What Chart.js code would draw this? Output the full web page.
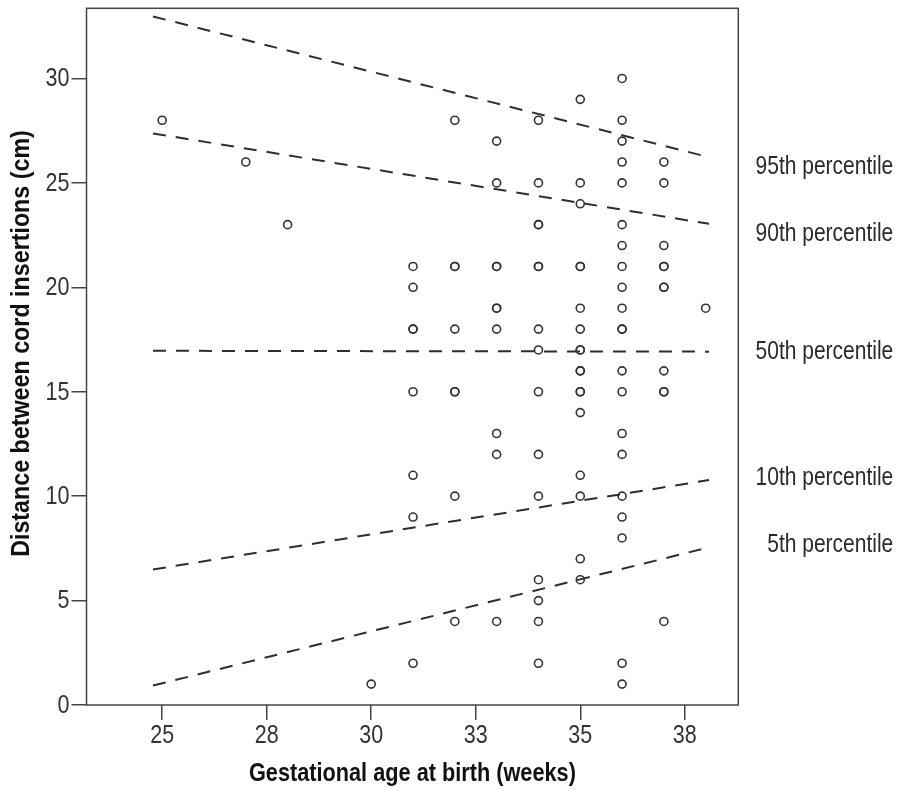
<!DOCTYPE html>
<html>
<head>
<meta charset="utf-8">
<script src="https://cdn.jsdelivr.net/npm/chart.js@4.4.1/dist/chart.umd.min.js"></script>
<style>
  html, body { margin: 0; padding: 0; background: #ffffff; }
  #wrap { width: 900px; height: 791px; }
</style>
</head>
<body>
<div id="wrap"><canvas id="chart" width="900" height="791"></canvas></div>
<script>
// Observed cases: gestational age at birth (weeks) and the distances (cm) recorded at that age
const weeks = [25, 27, 28, 30, 31, 32, 33, 34, 35, 36, 37, 38];
const distances = [
  [28],
  [26],
  [23],
  [1],
  [21, 20, 18, 18, 15, 11, 9, 2],
  [28, 21, 21, 18, 15, 15, 10, 4],
  [27, 25, 21, 21, 19, 19, 18, 13, 12, 4],
  [28, 25, 23, 23, 21, 21, 18, 17, 15, 12, 10, 6, 5, 4, 2],
  [29, 25, 24, 21, 21, 19, 18, 17, 17, 16, 16, 15, 15, 14, 11, 10, 7, 6],
  [30, 28, 27, 26, 25, 23, 22, 21, 20, 19, 18, 18, 16, 15, 13, 12, 10, 9, 8, 2, 1],
  [26, 25, 22, 21, 21, 20, 20, 16, 15, 15, 4],
  [19]
];

// Fitted percentile lines, evaluated at both ends of the age range
const lineWeeks = [24.78, 38.08];
const p95 = [32.97, 26.23];
const p90 = [27.37, 23.04];
const p50 = [16.96, 16.92];
const p10 = [6.49, 10.77];
const p5  = [0.93, 7.55];
const percentileNames = ['95th percentile', '90th percentile', '50th percentile', '10th percentile', '5th percentile'];

// Axis ticks and titles
const xTickValues = [25, 27.5, 30, 32.5, 35, 37.5];
const xTickLabels = ['25', '28', '30', '33', '35', '38'];
const yTickValues = [0, 5, 10, 15, 20, 25, 30];
const xTitle = 'Gestational age at birth (weeks)';
const yTitle = 'Distance between cord insertions (cm)';

const INK = '#333333';
const FONT = '"Liberation Sans", Arial, sans-serif';

const points = [];
weeks.forEach((w, i) => distances[i].forEach(d => points.push({ x: w, y: d })));

const percentileSeries = [p95, p90, p50, p10, p5];
const lineDatasets = percentileSeries.map((ys, k) => ({
  label: percentileNames[k],
  data: lineWeeks.map((w, j) => ({ x: w, y: ys[j] })),
  showLine: true,
  borderColor: '#2e2e2e',
  borderWidth: 2,
  borderDash: [13, 10],
  pointRadius: 0,
  pointHoverRadius: 0,
  fill: false,
  order: 2
}));

// Frame around the plotting area
const frame = {
  id: 'frame',
  beforeDatasetsDraw(chart) {
    const { ctx, chartArea: a } = chart;
    ctx.save();
    ctx.strokeStyle = '#444444';
    ctx.lineWidth = 1.5;
    ctx.strokeRect(a.left, a.top, a.right - a.left, a.bottom - a.top);
    ctx.restore();
  }
};

// Narrow-set text: horizontally condensed glyphs, optionally rotated
function narrowText(ctx, text, x, y, o) {
  ctx.save();
  ctx.translate(x, y);
  if (o.rotate) ctx.rotate(o.rotate);
  ctx.scale(o.sx, 1);
  ctx.font = o.font;
  ctx.fillStyle = o.color;
  ctx.textAlign = o.align || 'center';
  ctx.textBaseline = 'middle';
  ctx.fillText(text, 0, 0);
  ctx.restore();
}

// Tick labels, axis titles and percentile names
const textLayer = {
  id: 'textLayer',
  afterDraw(chart) {
    const { ctx, chartArea: a, scales } = chart;
    const tickFont = { font: '25px ' + FONT, color: INK, sx: 0.86 };
    xTickValues.forEach((v, i) => {
      narrowText(ctx, xTickLabels[i], scales.x.getPixelForValue(v), a.bottom + 31, tickFont);
    });
    yTickValues.forEach(v => {
      narrowText(ctx, String(v), a.left - 17, scales.y.getPixelForValue(v) + 1, { ...tickFont, align: 'right' });
    });
    narrowText(ctx, xTitle, (a.left + a.right) / 2, a.bottom + 69, {
      font: 'bold 26px ' + FONT, color: '#111111', sx: 0.835
    });
    narrowText(ctx, yTitle, 22, 343.5, {
      font: 'bold 26px ' + FONT, color: '#111111', sx: 0.895, rotate: -Math.PI / 2
    });
    percentileNames.forEach((t, i) => {
      narrowText(ctx, t, a.right + 155, scales.y.getPixelForValue([25.75, 22.54, 16.88, 10.86, 7.64][i]), {
        font: '25px ' + FONT, color: '#2a2a2a', sx: 0.84, align: 'right'
      });
    });
  }
};

new Chart(document.getElementById('chart'), {
  type: 'scatter',
  data: {
    datasets: [
      {
        label: 'Cases',
        data: points,
        pointStyle: 'circle',
        pointRadius: 4,
        pointHoverRadius: 4,
        pointBorderWidth: 1.6,
        pointBorderColor: INK,
        pointBackgroundColor: 'rgba(0,0,0,0)',
        order: 1
      },
      ...lineDatasets
    ]
  },
  options: {
    responsive: false,
    animation: false,
    devicePixelRatio: 1,
    events: [],
    layout: { padding: { top: 8.3, right: 161.7, left: 0, bottom: 0 } },
    plugins: {
      legend: { display: false },
      tooltip: { enabled: false }
    },
    scales: {
      x: {
        type: 'linear',
        min: 23.19,
        max: 38.78,
        afterBuildTicks: s => { s.ticks = xTickValues.map(v => ({ value: v })); },
        afterFit: s => { s.height = 86; s.paddingLeft = 0; s.paddingRight = 0; },
        ticks: { display: false },
        grid: { drawOnChartArea: false, drawTicks: true, tickLength: 15, color: '#444444', lineWidth: 1.5 },
        border: { display: false }
      },
      y: {
        type: 'linear',
        min: 0,
        max: 33.36,
        afterBuildTicks: s => { s.ticks = yTickValues.map(v => ({ value: v })); },
        afterFit: s => { s.width = 86.5; s.paddingTop = 0; s.paddingBottom = 0; },
        ticks: { display: false },
        grid: { drawOnChartArea: false, drawTicks: true, tickLength: 15, color: '#444444', lineWidth: 1.5 },
        border: { display: false }
      }
    }
  },
  plugins: [frame, textLayer]
});
</script>
</body>
</html>
